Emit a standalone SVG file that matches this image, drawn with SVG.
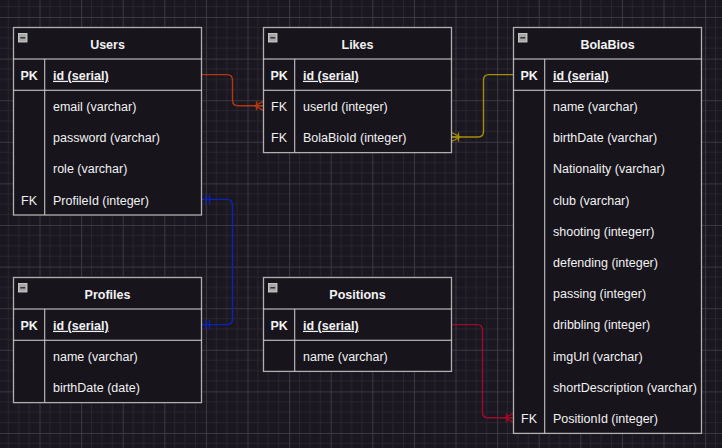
<svg xmlns="http://www.w3.org/2000/svg" width="722" height="448" viewBox="0 0 722 448">
<style>
.t{fill:#17141c;stroke:#b0b0b0;stroke-width:1.3}
.hl{stroke:#d8d8d8;stroke-width:1.1}
.cl{stroke:#c4c4c4;stroke-width:1.1}
text{font-family:"Liberation Sans",Arial,sans-serif;font-size:12.5px;fill:#f2f2f2}
.h{font-weight:bold;text-anchor:middle}
.k{text-anchor:middle}
.kb{text-anchor:middle;font-weight:bold}
.pk{font-weight:bold;text-decoration:underline}
.ic{fill:#a8a8a8;stroke:#dcdcdc;stroke-width:0.8}
.im{stroke:#2a2a2a;stroke-width:1.4}
.c{fill:none;stroke-width:1.4}
</style>
<defs>
<pattern id="g" width="41.6" height="41.6" patternUnits="userSpaceOnUse" x="-2.1" y="17">
<path d="M10.4 0V41.6M20.8 0V41.6M31.2 0V41.6M0 10.4H41.6M0 20.8H41.6M0 31.2H41.6" stroke="#28252e" stroke-width="1" fill="none"/>
<path d="M0.5 0V41.6M0 0.5H41.6" stroke="#3b3842" stroke-width="1" fill="none"/>
</pattern>
<marker id="mo" markerUnits="userSpaceOnUse" markerWidth="20" markerHeight="20" viewBox="-12 -10 14 20" refX="0" refY="0" orient="auto-start-reverse" overflow="visible">
<path d="M-9 0L0 -4.5M-9 0H0M-9 0L0 4.5M-7 -4.5V4.5" fill="none" stroke="#b3390d" stroke-width="1.3"/>
</marker>
<marker id="my" markerUnits="userSpaceOnUse" markerWidth="20" markerHeight="20" viewBox="-12 -10 14 20" refX="0" refY="0" orient="auto-start-reverse" overflow="visible">
<path d="M-9 0L0 -4.5M-9 0H0M-9 0L0 4.5M-7 -4.5V4.5" fill="none" stroke="#a68d0a" stroke-width="1.3"/>
</marker>
<marker id="mr" markerUnits="userSpaceOnUse" markerWidth="20" markerHeight="20" viewBox="-12 -10 14 20" refX="0" refY="0" orient="auto-start-reverse" overflow="visible">
<path d="M-9 0L0 -4.5M-9 0H0M-9 0L0 4.5M-7 -4.5V4.5" fill="none" stroke="#a00a24" stroke-width="1.3"/>
</marker>
<marker id="mb" markerUnits="userSpaceOnUse" markerWidth="20" markerHeight="20" viewBox="-12 -10 14 20" refX="0" refY="0" orient="auto-start-reverse" overflow="visible">
<path d="M-4.4 -4.5V4.5M-8 -4.5V4.5" fill="none" stroke="#0a24b8" stroke-width="1.3"/>
</marker>
</defs>
<rect width="722" height="448" fill="#1a1720"/>
<rect width="722" height="448" fill="url(#g)"/>

<g id="connectors">
<path class="c" stroke="#b3390d" d="M201.5 74.6H227Q232.5 74.6 232.5 80.1V100.3Q232.5 105.8 238 105.8H263.5" marker-end="url(#mo)"/>
<path class="c" stroke="#a68d0a" d="M513.5 74.6H489Q483.5 74.6 483.5 80.1V131.5Q483.5 137 478 137H451.5" marker-end="url(#my)"/>
<path class="c" stroke="#0a24b8" d="M201.5 199.4H227Q232.5 199.4 232.5 204.9V319.1Q232.5 324.6 227 324.6H201.5" marker-start="url(#mb)" marker-end="url(#mb)"/>
<path class="c" stroke="#a00a24" d="M451.5 324.6H477Q482.5 324.6 482.5 330.1V412.3Q482.5 417.8 488 417.8H513.5" marker-end="url(#mr)"/>
</g>

<g id="users">
<rect class="t" x="13.5" y="27.5" width="188" height="187.5"/>
<line class="hl" x1="13.5" y1="59" x2="201.5" y2="59"/>
<line class="hl" x1="13.5" y1="90.2" x2="201.5" y2="90.2"/>
<line class="cl" x1="44.7" y1="59" x2="44.7" y2="215"/>
<rect class="ic" x="18.5" y="33.5" width="8.5" height="8.5"/><line class="im" x1="20.3" y1="37.8" x2="25.2" y2="37.8"/>
<text class="h" x="107.5" y="48.5">Users</text>
<text class="kb" x="29.1" y="79.8">PK</text><text class="pk" x="53" y="79.8">id (serial)</text>
<text x="53" y="111">email (varchar)</text>
<text x="53" y="142.2">password (varchar)</text>
<text x="53" y="173.4">role (varchar)</text>
<text class="k" x="29.1" y="204.6">FK</text><text x="53" y="204.6">ProfileId (integer)</text>
</g>

<g id="likes">
<rect class="t" x="263.5" y="27.5" width="188" height="125.1"/>
<line class="hl" x1="263.5" y1="59" x2="451.5" y2="59"/>
<line class="hl" x1="263.5" y1="90.2" x2="451.5" y2="90.2"/>
<line class="cl" x1="294.7" y1="59" x2="294.7" y2="152.6"/>
<rect class="ic" x="268.5" y="33.5" width="8.5" height="8.5"/><line class="im" x1="270.3" y1="37.8" x2="275.2" y2="37.8"/>
<text class="h" x="357.5" y="48.5">Likes</text>
<text class="kb" x="279.1" y="79.8">PK</text><text class="pk" x="303" y="79.8">id (serial)</text>
<text class="k" x="279.1" y="111">FK</text><text x="303" y="111">userId (integer)</text>
<text class="k" x="279.1" y="142.2">FK</text><text x="303" y="142.2">BolaBioId (integer)</text>
</g>

<g id="bolabios">
<rect class="t" x="513.5" y="27.5" width="188" height="405.9"/>
<line class="hl" x1="513.5" y1="59" x2="701.5" y2="59"/>
<line class="hl" x1="513.5" y1="90.2" x2="701.5" y2="90.2"/>
<line class="cl" x1="544.7" y1="59" x2="544.7" y2="433.4"/>
<rect class="ic" x="518.5" y="33.5" width="8.5" height="8.5"/><line class="im" x1="520.3" y1="37.8" x2="525.2" y2="37.8"/>
<text class="h" x="607.5" y="48.5">BolaBios</text>
<text class="kb" x="529.1" y="79.8">PK</text><text class="pk" x="553" y="79.8">id (serial)</text>
<text x="553" y="111">name (varchar)</text>
<text x="553" y="142.2">birthDate (varchar)</text>
<text x="553" y="173.4">Nationality (varchar)</text>
<text x="553" y="204.6">club (varchar)</text>
<text x="553" y="235.8">shooting (integerr)</text>
<text x="553" y="267">defending (integer)</text>
<text x="553" y="298.2">passing (integer)</text>
<text x="553" y="329.4">dribbling (integer)</text>
<text x="553" y="360.6">imgUrl (varchar)</text>
<text x="553" y="391.8">shortDescription (varchar)</text>
<text class="k" x="529.1" y="423">FK</text><text x="553" y="423">PositionId (integer)</text>
</g>

<g id="profiles">
<rect class="t" x="13.5" y="277.5" width="188" height="125.1"/>
<line class="hl" x1="13.5" y1="309" x2="201.5" y2="309"/>
<line class="hl" x1="13.5" y1="340.2" x2="201.5" y2="340.2"/>
<line class="cl" x1="44.7" y1="309" x2="44.7" y2="402.6"/>
<rect class="ic" x="18.5" y="283.5" width="8.5" height="8.5"/><line class="im" x1="20.3" y1="287.8" x2="25.2" y2="287.8"/>
<text class="h" x="107.5" y="298.5">Profiles</text>
<text class="kb" x="29.1" y="329.8">PK</text><text class="pk" x="53" y="329.8">id (serial)</text>
<text x="53" y="361">name (varchar)</text>
<text x="53" y="392.2">birthDate (date)</text>
</g>

<g id="positions">
<rect class="t" x="263.5" y="277.5" width="188" height="93.9"/>
<line class="hl" x1="263.5" y1="309" x2="451.5" y2="309"/>
<line class="hl" x1="263.5" y1="340.2" x2="451.5" y2="340.2"/>
<line class="cl" x1="294.7" y1="309" x2="294.7" y2="371.4"/>
<rect class="ic" x="268.5" y="283.5" width="8.5" height="8.5"/><line class="im" x1="270.3" y1="287.8" x2="275.2" y2="287.8"/>
<text class="h" x="357.5" y="298.5">Positions</text>
<text class="kb" x="279.1" y="329.8">PK</text><text class="pk" x="303" y="329.8">id (serial)</text>
<text x="303" y="361">name (varchar)</text>
</g>
</svg>
